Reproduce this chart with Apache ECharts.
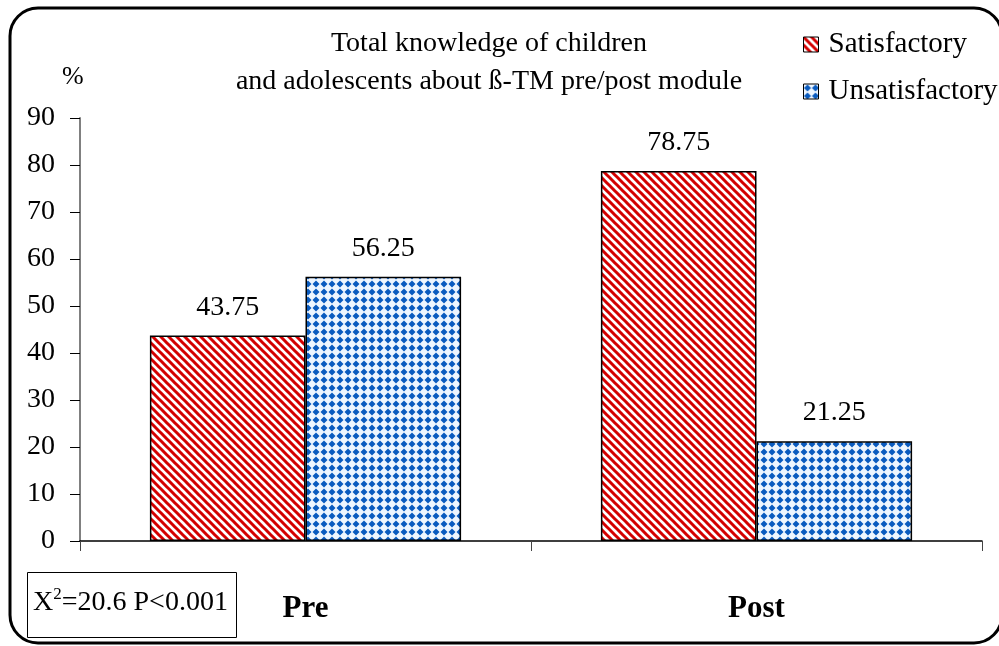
<!DOCTYPE html>
<html style="height: 100%">
<head>
    <meta charset="utf-8">
    <title>Total knowledge</title>
</head>
<body style="height: 100%; margin: 0; background: #fff;">
    <div id="container" style="width: 999px; height: 646px;"></div>
    <script src="https://cdn.jsdelivr.net/npm/echarts@6/dist/echarts.min.js"></script>
    <script type="text/javascript">
        var categories = ['Pre', 'Post'];
        var satisfactory = [43.75, 78.75];
        var unsatisfactory = [56.25, 21.25];
        var yTicks = [0, 10, 20, 30, 40, 50, 60, 70, 80, 90];

        // red diagonal stripes
        function stripePattern() {
            var c = document.createElement('canvas');
            c.width = 8; c.height = 8;
            var ctx = c.getContext('2d');
            ctx.fillStyle = '#fff';
            ctx.fillRect(0, 0, 8, 8);
            ctx.strokeStyle = '#d40000';
            ctx.lineWidth = 3;
            ctx.beginPath();
            ctx.moveTo(-2, -2); ctx.lineTo(10, 10);
            ctx.moveTo(-10, -2); ctx.lineTo(2, 10);
            ctx.moveTo(6, -2); ctx.lineTo(18, 10);
            ctx.stroke();
            return c;
        }
        // blue diamonds
        function diamondPattern() {
            var c = document.createElement('canvas');
            c.width = 8; c.height = 8;
            var ctx = c.getContext('2d');
            ctx.fillStyle = '#eef6ff';
            ctx.fillRect(0, 0, 8, 8);
            ctx.fillStyle = '#0a5bbf';
            ctx.beginPath();
            ctx.moveTo(4, 0.5); ctx.lineTo(7.5, 4); ctx.lineTo(4, 7.5); ctx.lineTo(0.5, 4);
            ctx.closePath();
            ctx.fill();
            return c;
        }

        var font = 'Liberation Serif';
        var dom = document.getElementById("container");
        var myChart = echarts.init(dom);
        var option = {
            animation: false,
            textStyle: { fontFamily: font, color: '#000' },
            title: {
                text: 'Total knowledge of children\nand adolescents about ß-TM pre/post module',
                left: 484,
                top: 20,
                textAlign: 'center',
                textStyle: { fontFamily: font, fontSize: 28, fontWeight: 'normal', color: '#000', lineHeight: 38 }
            },
            legend: {
                left: 798,
                top: 25,
                orient: 'vertical',
                itemGap: 18,
                itemWidth: 15,
                itemHeight: 15,
                icon: 'rect',
                formatter: '{t|{name}}',
                textStyle: {
                    fontFamily: font, fontSize: 29, color: '#000',
                    rich: { t: { fontFamily: font, fontSize: 29, color: '#000', lineHeight: 30, padding: [0, 0, 0, 5] } }
                },
                itemStyle: { borderColor: '#000', borderWidth: 1 }
            },
            grid: { left: 80, right: 17, top: 118, bottom: 105 },
            xAxis: {
                type: 'category',
                data: categories,
                axisLine: { lineStyle: { color: '#000', width: 1.5 } },
                axisTick: { show: true, length: 10, lineStyle: { color: '#444' } },
                axisLabel: { fontFamily: font, fontSize: 31, fontWeight: 'bold', color: '#000', margin: 52 }
            },
            yAxis: {
                type: 'value',
                min: yTicks[0],
                max: yTicks[yTicks.length - 1],
                interval: 10,
                splitLine: { show: false },
                axisLine: { show: true, lineStyle: { color: '#808080', width: 2 } },
                axisTick: { show: true, length: 10, lineStyle: { color: '#000' } },
                axisLabel: { fontFamily: font, fontSize: 28, color: '#000', margin: 25 }
            },
            series: [{
                name: 'Satisfactory',
                type: 'bar',
                data: satisfactory,
                barGap: '0%',
                barCategoryGap: '31%',
                itemStyle: { color: { image: stripePattern(), repeat: 'repeat' }, borderColor: '#000', borderWidth: 1.5 },
                label: { show: true, position: 'top', distance: 14, fontFamily: font, fontSize: 28, color: '#000' }
            }, {
                name: 'Unsatisfactory',
                type: 'bar',
                data: unsatisfactory,
                itemStyle: { color: { image: diamondPattern(), repeat: 'repeat' }, borderColor: '#000', borderWidth: 1.5 },
                label: { show: true, position: 'top', distance: 14, fontFamily: font, fontSize: 28, color: '#000' }
            }],
            graphic: [{
                type: 'rect',
                shape: { x: 10, y: 8, width: 992, height: 635, r: 28 },
                style: { fill: 'none', stroke: '#000', lineWidth: 3 },
                silent: true
            }, {
                type: 'text',
                left: 62,
                top: 64,
                style: { text: '%', fontFamily: font, fontSize: 26, fill: '#000' }
            }, {
                type: 'rect',
                shape: { x: 27.5, y: 572.5, width: 209, height: 65 },
                style: { fill: 'none', stroke: '#000', lineWidth: 1 }
            }, {
                type: 'text',
                left: 33,
                top: 586,
                style: {
                    text: '{a|X}{s|2}{a|=20.6 P<0.001}',
                    rich: {
                        a: { fontFamily: font, fontSize: 28, fill: '#000', verticalAlign: 'bottom' },
                        s: { fontFamily: font, fontSize: 17, fill: '#000', verticalAlign: 'top', padding: [0, 0, 14, 0] }
                    }
                }
            }]
        };
        myChart.setOption(option, true);
    </script>
</body>
</html>
